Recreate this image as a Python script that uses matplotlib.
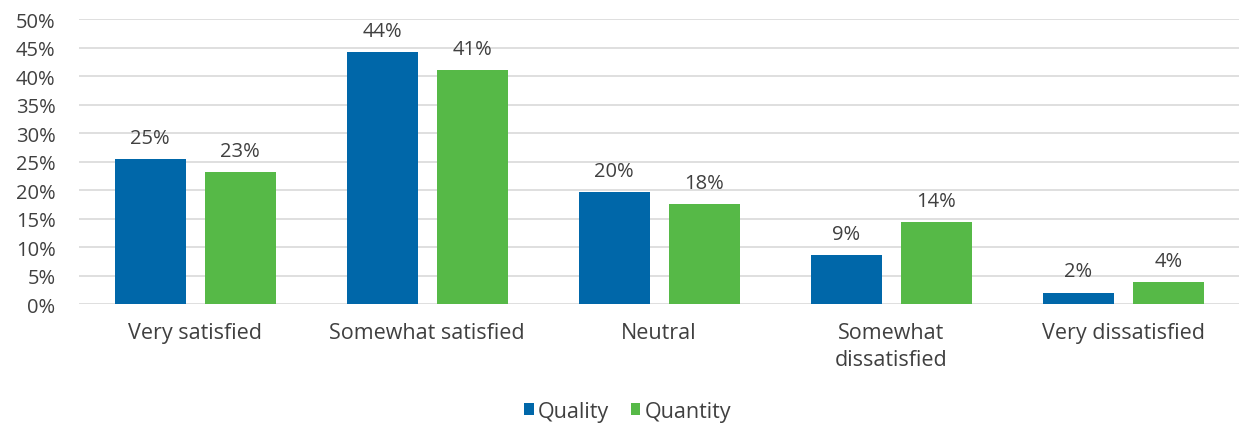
import numpy as np
import matplotlib.pyplot as plt
from matplotlib.ticker import FuncFormatter

plt.rcParams['font.family'] = ['Open Sans', 'DejaVu Sans']

categories = ["Very satisfied", "Somewhat satisfied", "Neutral",
              "Somewhat\ndissatisfied", "Very dissatisfied"]
quality = [25.4, 44.2, 19.6, 8.6, 2.0]
quantity = [23.2, 41.0, 17.6, 14.4, 3.8]
series_names = ["Quality", "Quantity"]
colors = ["#0067a9", "#56b947"]
text_color = "#404040"

fig = plt.figure(figsize=(12.43, 4.27), dpi=100)
ax = fig.add_axes([0.0636, 0.2857, 0.9334, 0.6673])

x = np.arange(len(categories))
w = 0.306
off = 0.194
b1 = ax.bar(x - off, quality, w, color=colors[0], label=series_names[0], zorder=3)
b2 = ax.bar(x + off, quantity, w, color=colors[1], label=series_names[1], zorder=3)

for bars, vals in [(b1, quality), (b2, quantity)]:
    for rect, v in zip(bars, vals):
        ax.annotate(f"{v:.0f}%", (rect.get_x() + rect.get_width() / 2, v),
                    xytext=(0, 8), textcoords="offset points",
                    ha="center", va="bottom", fontsize=14.5, color=text_color)

ax.set_xlim(-0.5, len(categories) - 0.5)
ax.set_ylim(0, 50)
ax.set_yticks(np.arange(0, 51, 5))
ax.yaxis.set_major_formatter(FuncFormatter(lambda v, p: f"{v:.0f}%"))
ax.set_xticks(x)
ax.set_xticklabels(categories, linespacing=1.35)
ax.tick_params(axis="both", length=0, labelcolor=text_color)
ax.tick_params(axis="y", pad=17, labelsize=14.5)
ax.tick_params(axis="x", pad=13, labelsize=15.5)

ax.grid(axis="y", color="#d9d9d9", linewidth=1.2, zorder=0)
for s in ["top", "right", "left", "bottom"]:
    ax.spines[s].set_visible(False)

fig.legend(loc="center", bbox_to_anchor=(0.505, 0.035), ncol=2, frameon=False,
           fontsize=15.5, labelcolor=text_color, handlelength=0.45, handleheight=0.45,
           handletextpad=0.2, columnspacing=1.0)

fig.savefig("out.png", dpi=100)
